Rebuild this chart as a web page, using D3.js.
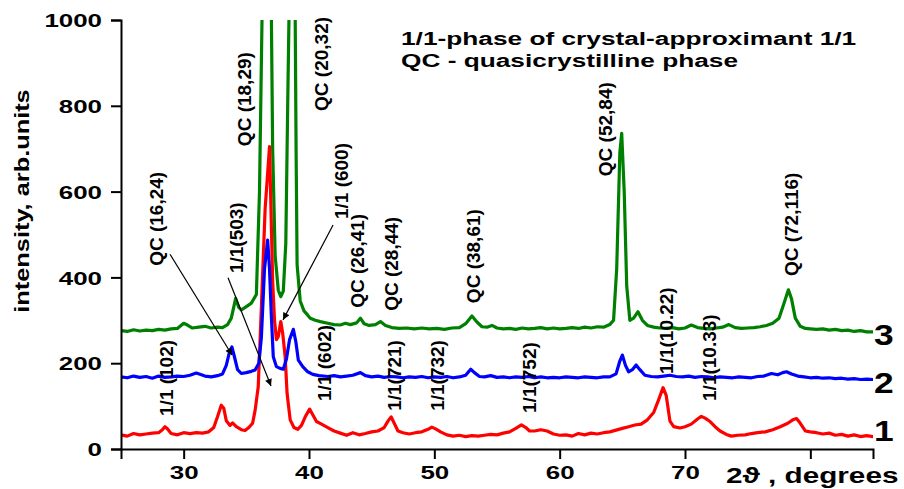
<!DOCTYPE html>
<html>
<head>
<meta charset="utf-8">
<script src="https://d3js.org/d3.v7.min.js"></script>
<style>
  html, body { margin: 0; padding: 0; background: #fff; }
  svg { display: block; }
  text { font-family: "Liberation Sans", Arial, Helvetica, sans-serif; font-weight: bold; fill: #000; }
</style>
</head>
<body>
<svg id="chart" width="904" height="489"></svg>
<script>
// ---------------- data ----------------
const xDomain = [25, 85];
const yDomain = [0, 1000];
const xTicksMajor = [30, 40, 50, 60, 70, 80];
const xTickLabels = ["30", "40", "50", "60", "70", ""];   // 80 is covered by the axis title
const xTicksMinor = [25, 35, 45, 55, 65, 75, 85];
const yTicksMajor = [0, 200, 400, 600, 800, 1000];
const yTicksMinor = [100, 300, 500, 700, 900];

const xTitle = "2\u03D1 , degrees";
const yTitle = "intensity, arb.units";
const legendLines = ["1/1-phase of crystal-approximant 1/1", "QC - quasicrystilline phase"];

// series 1 (red): [2theta, intensity]
const series1 = [[25,33],[25.5,30],[26,36],[26.5,33],[27,35],[27.5,37],[28,38],[28.3,45],[28.5,52],[28.7,47],[29,36],[29.5,33],[30,38],[30.5,36],[31,38],[31.5,37],[32,40],[32.4,50],[32.7,75],[33.0,102],[33.2,95],[33.4,66],[33.7,55],[33.9,61],[34.2,52],[34.6,45],[34.9,43],[35.2,50],[35.5,60],[35.7,90],[35.95,145],[36.2,330],[36.5,560],[36.85,705],[37.1,390],[37.25,300],[37.4,255],[37.55,262],[37.75,297],[37.9,270],[38.1,215],[38.25,130],[38.5,68],[38.8,50],[39.1,46],[39.4,55],[39.7,75],[40.05,93],[40.3,80],[40.6,64],[41,58],[41.5,50],[42,42],[42.5,37],[43,32],[43.5,38],[44,33],[44.5,36],[45,40],[45.5,42],[46,50],[46.3,65],[46.55,75],[46.8,60],[47.1,42],[47.5,38],[48,35],[48.5,38],[49,40],[49.5,46],[49.8,51],[50.1,47],[50.5,40],[51,33],[51.5,30],[52,32],[52.5,29],[53,31],[53.5,30],[54,32],[54.5,34],[55,33],[55.5,37],[56,40],[56.5,48],[56.95,56],[57.3,50],[57.6,42],[58,42],[58.5,45],[59,42],[59.5,35],[60,32],[60.5,33],[61,30],[61.5,36],[62,33],[62.5,37],[63,35],[63.5,38],[64,40],[64.5,44],[65,48],[65.5,52],[66,56],[66.5,58],[67,68],[67.5,85],[67.9,115],[68.25,143],[68.5,125],[68.8,65],[69.1,52],[69.6,49],[70,52],[70.5,58],[71,70],[71.3,76],[71.6,72],[72,64],[72.4,52],[72.8,42],[73.3,34],[73.7,30],[74.2,32],[74.8,33],[75.3,36],[75.8,38],[76.4,40],[77,45],[77.6,52],[78.2,60],[78.6,68],[78.9,71],[79.2,60],[79.6,42],[80,40],[80.5,38],[81,35],[81.5,37],[82,32],[82.5,34],[83,30],[83.5,33],[84,29],[84.5,31],[85,29]];

// series 2 (blue)
const series2 = [[25,168],[25.5,166],[26,170],[26.5,167],[27,169],[27.5,165],[28,170],[28.5,167],[29,168],[29.5,170],[30,169],[30.5,172],[31,177],[31.3,174],[31.7,170],[32.2,168],[32.7,171],[33.1,175],[33.4,195],[33.65,225],[33.85,238],[34.05,215],[34.3,185],[34.6,176],[35,178],[35.4,181],[35.7,184],[36.0,200],[36.2,260],[36.45,420],[36.7,487],[36.85,420],[37.0,308],[37.15,215],[37.4,192],[37.7,188],[37.95,186],[38.2,210],[38.45,255],[38.75,279],[38.95,250],[39.15,207],[39.5,192],[39.9,180],[40.3,174],[40.8,171],[41.5,169],[42,171],[42.5,168],[43,170],[43.5,172],[44.1,178],[44.5,171],[45,168],[45.5,170],[46,167],[46.5,169],[47,168],[47.5,166],[48,168],[48.5,167],[49,169],[49.5,166],[50,168],[50.5,167],[51,169],[51.5,166],[52,168],[52.5,172],[52.9,186],[53.2,178],[53.6,169],[54,168],[54.5,171],[55,167],[55.5,168],[56,166],[56.5,168],[57,167],[57.5,169],[58,166],[58.5,168],[59,166],[59.5,167],[60,166],[60.5,168],[61,167],[61.5,166],[62,168],[62.5,167],[63,166],[63.5,168],[64,168],[64.5,175],[64.8,205],[65.0,219],[65.25,195],[65.5,180],[65.8,185],[66.1,196],[66.4,185],[66.8,172],[67.3,169],[67.8,168],[68.3,170],[68.8,172],[69.3,169],[69.8,168],[70.3,170],[70.8,167],[71.3,169],[71.8,168],[72.3,166],[72.8,168],[73.3,167],[73.8,166],[74.3,168],[74.8,167],[75.3,166],[75.8,169],[76.3,170],[76.9,176],[77.4,173],[77.8,178],[78.1,180],[78.5,175],[79.0,170],[79.5,168],[80,166],[80.5,167],[81,165],[81.5,166],[82,164],[82.5,165],[83,163],[83.5,164],[84,162],[84.5,163],[85,162]];

// series 3 (green)
const series3 = [[25,276],[25.5,274],[26,278],[26.5,275],[27,277],[27.5,276],[28,279],[28.5,277],[29,280],[29.5,281],[30.0,293],[30.3,289],[30.7,282],[31.2,284],[31.7,286],[32.2,282],[32.7,284],[33.1,283],[33.5,290],[33.8,305],[34.15,351],[34.4,330],[34.6,324],[35,332],[35.4,340],[35.8,360],[36.05,600],[36.25,1000],[36.62,2600],[37.0,1000],[37.1,700],[37.3,450],[37.55,370],[37.75,355],[37.95,368],[38.15,480],[38.3,800],[38.4,1000],[38.65,2200],[38.9,1000],[38.97,700],[39.05,430],[39.3,345],[39.6,322],[39.9,312],[40.1,305],[40.5,300],[40.9,297],[41.5,293],[42,290],[42.5,289],[42.9,293],[43.3,290],[43.8,294],[44.1,305],[44.4,292],[44.8,288],[45.3,290],[45.7,297],[46.1,288],[46.6,283],[47.2,281],[47.8,282],[48.4,280],[49,282],[49.6,280],[50.2,281],[50.8,279],[51.4,282],[52,283],[52.5,292],[53.0,310],[53.4,296],[53.8,285],[54.2,284],[54.6,288],[55,282],[55.5,280],[56,281],[56.5,279],[57,282],[57.5,280],[58,281],[58.5,283],[59,280],[59.5,282],[60,280],[60.5,281],[61,283],[61.5,281],[62,284],[62.5,282],[63,285],[63.5,284],[64,290],[64.3,300],[64.55,420],[64.8,690],[64.95,736],[65.15,600],[65.35,380],[65.6,300],[65.9,305],[66.25,320],[66.6,300],[67,288],[67.5,284],[68,282],[68.5,281],[69,283],[69.5,280],[70,282],[70.5,289],[71,283],[71.5,281],[72,280],[72.5,282],[73,284],[73.5,290],[74,283],[74.5,281],[75,282],[75.5,283],[76,285],[76.5,288],[77,293],[77.5,305],[77.9,340],[78.25,371],[78.5,350],[78.8,305],[79.2,286],[79.6,281],[80,280],[80.5,279],[81,280],[81.5,277],[82,279],[82.5,276],[83,277],[83.5,274],[84,276],[84.5,273],[85,273]];

const seriesNames = ["1", "2", "3"];
const seriesColors = ["#ff0000", "#0000ff", "#008000"];
const seriesLabelAt = [44, 155, 268];   // intensity at which the curve number sits

// peak annotations: text, 2theta of baseline, intensity where text starts (rotated)
const annText = ["QC (16,24)", "1/1(503)", "QC (18,29)", "QC (20,32)", "1/1 (600)", "QC (26,41)", "QC (28,44)", "QC (38,61)", "1/1 (102)", "1/1 (602)", "1/1(721)", "1/1(732)", "1/1(752)", "QC (52,84)", "QC (72,116)", "1/1(10.22)", "1/1(10.33)"];
const annTheta = [28.35, 34.73, 35.37, 41.52, 43.11, 44.39, 47.10, 53.64, 29.15, 41.76, 47.34, 50.77, 58.11, 64.18, 79.02, 69.04, 72.47];
const annInt   = [427, 410, 706, 788, 536, 329, 322, 340, 77, 112, 89, 89, 84, 636, 403, 175, 112];

// arrows: from (theta, I) to (theta, I)
const arrowFrom = [[28.91, 454], [33.54, 399], [41.92, 522]];
const arrowTo   = [[33.86, 219], [36.97, 147], [37.93, 301]];

// ---------------- drawing ----------------
const svg = d3.select("#chart");
const x = d3.scaleLinear().domain(xDomain).range([121, 873]);
const y = d3.scaleLinear().domain(yDomain).range([449, 20]);

svg.append("defs").append("clipPath").attr("id", "plotclip")
  .append("rect").attr("x", x(xDomain[0])).attr("y", y(yDomain[1]))
  .attr("width", x(xDomain[1]) - x(xDomain[0])).attr("height", y(yDomain[0]) - y(yDomain[1]));

svg.select("defs").append("marker")
  .attr("id", "arrow").attr("viewBox", "0 0 10 10").attr("refX", 10).attr("refY", 5)
  .attr("markerWidth", 9).attr("markerHeight", 7).attr("markerUnits", "userSpaceOnUse")
  .attr("orient", "auto")
  .append("path").attr("d", "M0,0 L10,5 L0,10 z").attr("fill", "#000");

// curves
const line = d3.line().x(d => x(d[0])).y(d => y(d[1]));
const allSeries = [series3, series1, series2];
const allColors = [seriesColors[2], seriesColors[0], seriesColors[1]];
const gLines = svg.append("g").attr("clip-path", "url(#plotclip)");
allSeries.forEach((s, i) => {
  gLines.append("path").datum(s).attr("d", line)
    .attr("fill", "none").attr("stroke", allColors[i]).attr("stroke-width", 3.2)
    .attr("stroke-linejoin", "round").attr("stroke-linecap", "round");
});

// axes
const fs = 18.5, sx = 1.4;
const gy = svg.append("g").attr("transform", `translate(${x(xDomain[0])},0)`);
gy.call(d3.axisLeft(y).tickValues(yTicksMinor).tickSize(5).tickFormat(""));
gy.call(d3.axisLeft(y).tickValues(yTicksMajor).tickSize(10).tickFormat(d3.format("d")));
gy.selectAll(".domain").attr("stroke", "#000").attr("stroke-width", 2);
gy.selectAll(".tick line").attr("stroke", "#000").attr("stroke-width", 2);
gy.selectAll(".tick text")
  .attr("font-size", fs).attr("font-family", null)
  .attr("x", -19 / sx).attr("dy", "0.36em")
  .attr("transform", `scale(${sx},1)`);

const gx = svg.append("g").attr("transform", `translate(0,${y(yDomain[0])})`);
gx.call(d3.axisBottom(x).tickValues(xTicksMinor).tickSize(5).tickFormat(""));
gx.call(d3.axisBottom(x).tickValues(xTicksMajor).tickSize(10)
  .tickFormat((d, i) => xTickLabels[i]));
gx.selectAll(".domain").attr("stroke", "#000").attr("stroke-width", 2);
gx.selectAll(".tick line").attr("stroke", "#000").attr("stroke-width", 2);
gx.selectAll(".tick text")
  .attr("font-size", fs).attr("font-family", null)
  .attr("y", 30).attr("dy", 0)
  .attr("transform", `scale(${sx},1)`);

// axis titles
svg.append("text").attr("transform", `translate(29,201) rotate(-90) scale(1.3,1)`)
  .attr("text-anchor", "middle").attr("font-size", 19.5).text(yTitle);
svg.append("text").attr("transform", `translate(726,483) scale(1.35,1)`)
  .attr("font-size", 22).text(xTitle);

// legend text
legendLines.forEach((t, i) => {
  svg.append("text").attr("transform", `translate(401,${45 + i * 22}) scale(1.42,1)`)
    .attr("font-size", 18.5).text(t);
});

// series numbers
seriesNames.forEach((n, i) => {
  svg.append("text").attr("transform", `translate(${x(xDomain[1]) + 1},${y(seriesLabelAt[i]) + 10.5}) scale(1.22,1)`)
    .attr("font-size", 29).text(n);
});

// annotations
annText.forEach((t, i) => {
  svg.append("text").attr("transform", `translate(${x(annTheta[i])},${y(annInt[i])}) rotate(-90)`)
    .attr("font-size", 19).text(t);
});

// arrows
arrowFrom.forEach((f, i) => {
  svg.append("line")
    .attr("x1", x(f[0])).attr("y1", y(f[1]))
    .attr("x2", x(arrowTo[i][0])).attr("y2", y(arrowTo[i][1]))
    .attr("stroke", "#000").attr("stroke-width", 1.2)
    .attr("marker-end", "url(#arrow)");
});
</script>
</body>
</html>
